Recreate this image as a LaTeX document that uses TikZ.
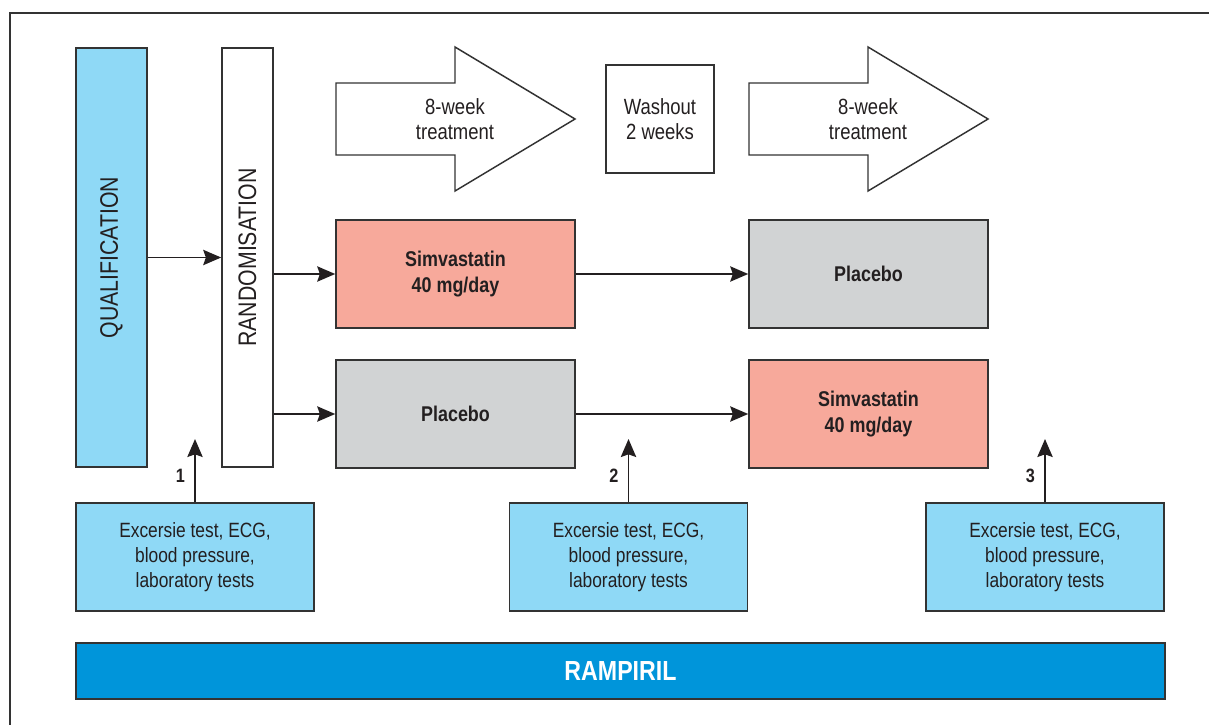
\documentclass[tikz,border=0pt]{standalone}
\usepackage{fontspec}
\setmainfont{Liberation Sans}[FakeStretch=0.84]
\usepackage{xcolor}
\usetikzlibrary{arrows.meta}
\definecolor{qualblue}{HTML}{8FD9F6}
\definecolor{simvred}{HTML}{F7A99B}
\definecolor{placgray}{HTML}{D1D3D4}
\definecolor{rampblue}{HTML}{0095DA}
\definecolor{inkdark}{HTML}{231F20}
\definecolor{edgegray}{HTML}{333333}

\begin{document}
\begin{tikzpicture}[x=0.75pt,y=-0.75pt]
\tikzstyle{every node}+=[inner sep=0pt, text=inkdark, align=center]
\tikzstyle{box}=[draw=edgegray, line width=1.2pt, rectangle]
\tikzstyle{armbox}=[box, minimum width=179.25pt, minimum height=81pt, font=\fontsize{16}{19}\selectfont\bfseries]
\tikzstyle{testbox}=[box, fill=qualblue, minimum width=178.5pt, minimum height=81pt, font=\fontsize{15.5}{19}\selectfont]
\tikzstyle{period}=[font=\fontsize{16.5}{19}\selectfont]
\tikzstyle{conn}=[draw=inkdark, line width=1.2pt, -{Stealth[length=13.5pt,width=11.5pt,inset=2pt]}]
\tikzstyle{bigarrow}=[draw=edgegray, line width=1.1pt, fill=white]
\useasboundingbox (0,0) rectangle (1209,724);
\clip (0,0) rectangle (1209,724);
\draw [draw=edgegray, line width=1.5pt] (10,13) rectangle (1240,750);

% phases
\node [box, fill=qualblue, minimum width=53.25pt, minimum height=314.25pt] (qual) at (111.5,257.5) {};
\node [rotate=90, font=\fontsize{19}{21}\selectfont] at (qual) {QUALIFICATION};
\node [box, fill=white, minimum width=38.25pt, minimum height=314.25pt] (rand) at (247.5,257.5) {};
\node [rotate=90, font=\fontsize{19}{21}\selectfont] at (rand) {RANDOMISATION};

% treatment periods
\draw [bigarrow] (336,83) -- (455,83) -- (455,47) -- (575,119) -- (455,191) -- (455,155) -- (336,155) -- cycle;
\node [period] (period1) at (455,119) {8-week\\treatment};
\node [box, fill=white, minimum width=81pt, minimum height=81pt, period] (wash) at (660,119) {Washout\\2 weeks};
\draw [bigarrow] (749,83) -- (868,83) -- (868,47) -- (988,119) -- (868,191) -- (868,155) -- (749,155) -- cycle;
\node [period] (period2) at (868,119) {8-week\\treatment};

% arms
\node [armbox, fill=simvred] (simvA) at (455.5,274) {Simvastatin\\40 mg/day};
\node [armbox, fill=placgray] (placA) at (868.5,274) {Placebo};
\node [armbox, fill=placgray] (placB) at (455.5,414) {Placebo};
\node [armbox, fill=simvred] (simvB) at (868.5,414) {Simvastatin\\40 mg/day};

\draw [conn] (qual.east) -- (rand.west);
\draw [conn] (rand.east |- simvA.west) -- (simvA.west);
\draw [conn] (rand.east |- placB.west) -- (placB.west);
\draw [conn] (simvA.east) -- (placA.west);
\draw [conn] (placB.east) -- (simvB.west);

% examinations
\node [testbox] (test1) at (195,557) {Excersie test, ECG,\\blood pressure,\\laboratory tests};
\node [testbox] (test2) at (628.5,557) {Excersie test, ECG,\\blood pressure,\\laboratory tests};
\node [testbox] (test3) at (1045,557) {Excersie test, ECG,\\blood pressure,\\laboratory tests};
\coordinate (visit1) at (195,439);
\coordinate (visit2) at (628.5,439);
\coordinate (visit3) at (1045,439);
\draw [conn] (test1.north) -- node [pos=0.42, left=7pt, font=\fontsize{14.5}{16}\selectfont\bfseries] {1} (visit1);
\draw [conn] (test2.north) -- node [pos=0.42, left=7pt, font=\fontsize{14.5}{16}\selectfont\bfseries] {2} (visit2);
\draw [conn] (test3.north) -- node [pos=0.42, left=7pt, font=\fontsize{14.5}{16}\selectfont\bfseries] {3} (visit3);

\node [box, fill=rampblue, minimum width=816.75pt, minimum height=42pt, text=white, font=\fontsize{20.7}{22}\selectfont\bfseries] (ramp) at (620.5,671) {RAMPIRIL};
\end{tikzpicture}
\end{document}
